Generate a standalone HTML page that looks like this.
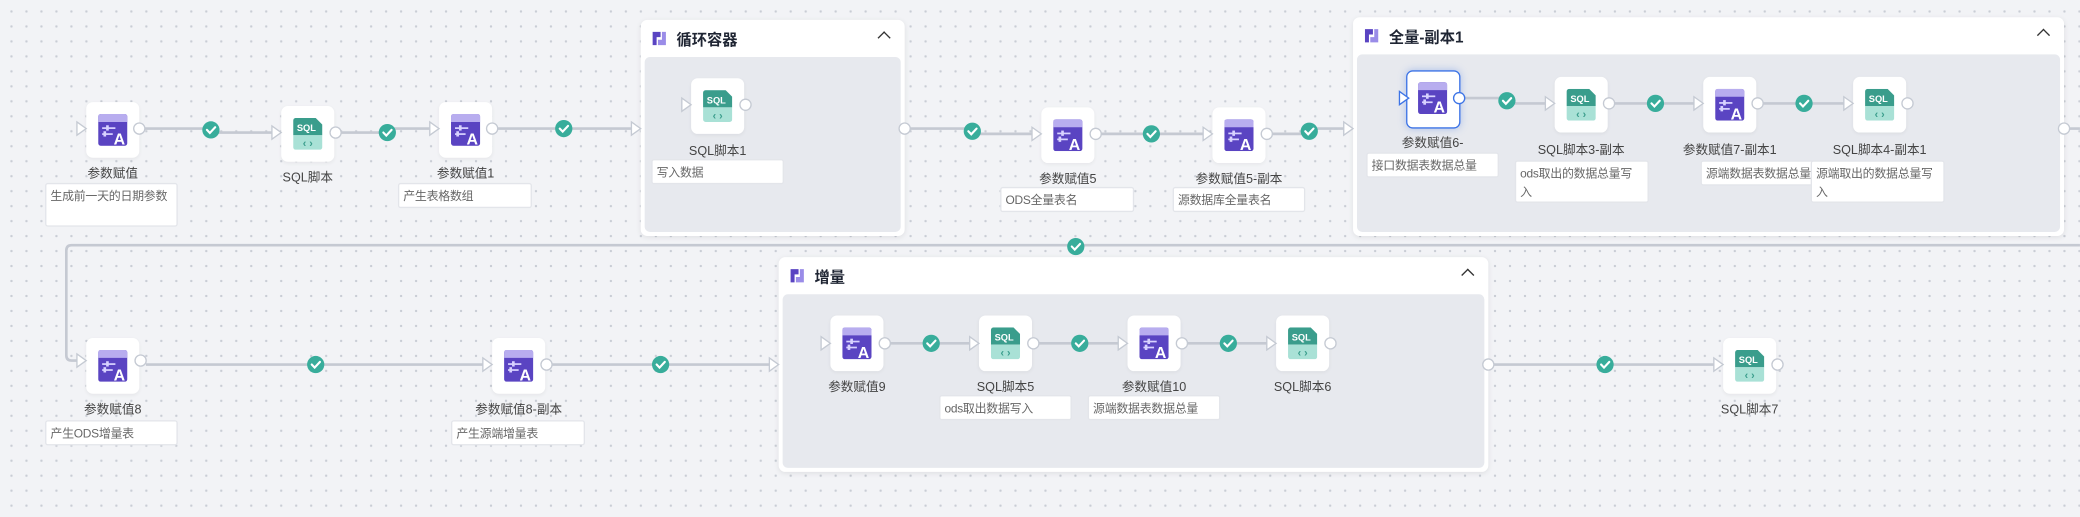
<!DOCTYPE html>
<html><head><meta charset="utf-8"><style>
html,body{margin:0;padding:0;width:2080px;height:517px;overflow:hidden;background:#f2f3f6;}
#w{position:absolute;left:0;top:0;width:1568px;height:390px;transform:scale(1.3265,1.3256);transform-origin:0 0;
background-color:#f2f3f6;background-image:radial-gradient(circle,#c9cdd5 0.8px,transparent 1px);background-size:11.3px 11.3px;background-position:3px 3px;
font-family:"Liberation Sans","Noto Sans CJK SC",sans-serif;}
.c{position:absolute;background:#fff;border-radius:5px;box-shadow:0 1px 4px rgba(0,0,0,.08);}
.c .b{position:absolute;left:3px;right:3px;top:28px;bottom:3px;background:#e7e9ee;border-radius:4px;}
.c .t{position:absolute;left:27px;top:7px;font-size:11.5px;font-weight:bold;color:#1f2533;}
.c .i{position:absolute;left:8px;top:8px;}
.c .ch{position:absolute;right:12px;top:10px;width:6px;height:6px;border-left:1.5px solid #333;border-top:1.5px solid #333;transform:rotate(45deg);}
.n{position:absolute;width:40px;height:42px;background:#fff;border-radius:5px;box-shadow:0 1px 3px rgba(0,0,0,.05);}
.n svg{position:absolute;left:9px;top:9px;}
.sel{border:1px solid #3d74e6;box-shadow:0 0 6px rgba(61,116,230,.35);width:39px;height:42px;}
.l{position:absolute;font-size:9.5px;color:#444;white-space:nowrap;transform:translateX(-50%);}
.d{position:absolute;background:#fff;border:1px solid #e3e5ea;font-size:9px;letter-spacing:-0.2px;color:#666;padding:2px 3px;line-height:14px;box-sizing:border-box;border-radius:2px;overflow:hidden;}
#ov{position:absolute;left:0;top:0;}
</style></head><body><div id="w">
<svg width="0" height="0" style="position:absolute"><defs>
<symbol id="pa" viewBox="0 0 22 24"><rect width="22" height="24" rx="2" fill="#5a44c2"/><path d="M0 2a2 2 0 0 1 2-2h18a2 2 0 0 1 2 2v4H0z" fill="#b8adef"/><rect x="3" y="10" width="10" height="1.3" fill="#d8d2ff"/><rect x="6" y="8.5" width="2" height="4" fill="#d8d2ff"/><rect x="3" y="14.5" width="8" height="1.3" fill="#d8d2ff"/><rect x="4" y="13" width="2" height="4" fill="#d8d2ff"/><text x="16" y="23" font-size="12" font-weight="bold" fill="#fff" text-anchor="middle" font-family="Liberation Sans,sans-serif">A</text></symbol>
<symbol id="sq" viewBox="0 0 22 24"><path d="M0 2a2 2 0 0 1 2-2h15l5 5v8H0z" fill="#3a9d8c"/><path d="M0 13h22v9a2 2 0 0 1-2 2H2a2 2 0 0 1-2-2z" fill="#a9e1d6"/><text x="10" y="10" font-size="7" font-weight="bold" fill="#fff" text-anchor="middle" font-family="Liberation Sans,sans-serif">SQL</text><text x="11" y="22" font-size="8" font-weight="bold" fill="#3a9d8c" text-anchor="middle" font-family="Liberation Sans,sans-serif">‹ ›</text></symbol>
<symbol id="lp" viewBox="0 0 12 12"><path d="M1 1h6v4H4v6H1z" fill="#5a44c2"/><path d="M11 11H5V7h3V1h3z" fill="#9a8ce8"/></symbol>
</defs></svg>

<div class="c" style="left:483px;top:15px;width:199px;height:163px"><svg class="i" width="12" height="12"><use href="#lp"/></svg><div class="t">循环容器</div><div class="ch"></div><div class="b"></div></div>
<div class="c" style="left:1020px;top:13px;width:536px;height:165px"><svg class="i" width="12" height="12"><use href="#lp"/></svg><div class="t">全量-副本1</div><div class="ch"></div><div class="b"></div></div>
<div class="c" style="left:587px;top:194px;width:535px;height:162px"><svg class="i" width="12" height="12"><use href="#lp"/></svg><div class="t">增量</div><div class="ch"></div><div class="b"></div></div>

<div class="n" style="left:65px;top:77px"><svg width="22" height="24"><use href="#pa"/></svg></div>
<div class="l" style="left:85px;top:123px">参数赋值</div>
<div class="d" style="left:34px;top:138px;width:100px;height:33px">生成前一天的日期参数</div>
<div class="n" style="left:212px;top:80px"><svg width="22" height="24"><use href="#sq"/></svg></div>
<div class="l" style="left:232px;top:126px">SQL脚本</div>
<div class="n" style="left:331px;top:77px"><svg width="22" height="24"><use href="#pa"/></svg></div>
<div class="l" style="left:351px;top:123px">参数赋值1</div>
<div class="d" style="left:300px;top:138px;width:101px;height:19px">产生表格数组</div>

<div class="n" style="left:521px;top:59px"><svg width="22" height="24"><use href="#sq"/></svg></div>
<div class="l" style="left:541px;top:106px">SQL脚本1</div>
<div class="d" style="left:491px;top:120px;width:100px;height:19px">写入数据</div>

<div class="n" style="left:785px;top:81px"><svg width="22" height="24"><use href="#pa"/></svg></div>
<div class="l" style="left:805px;top:127px">参数赋值5</div>
<div class="d" style="left:754px;top:141px;width:101px;height:19px">ODS全量表名</div>
<div class="n" style="left:914px;top:81px"><svg width="22" height="24"><use href="#pa"/></svg></div>
<div class="l" style="left:934px;top:127px">参数赋值5-副本</div>
<div class="d" style="left:884px;top:141px;width:100px;height:19px">源数据库全量表名</div>

<div class="n sel" style="left:1060px;top:53px"><svg width="22" height="24" style="left:8px;top:8px"><use href="#pa"/></svg></div>
<div class="l" style="left:1080px;top:100px">参数赋值6-</div>
<div class="d" style="left:1030px;top:115px;width:100px;height:19px">接口数据表数据总量</div>
<div class="n" style="left:1172px;top:58px"><svg width="22" height="24"><use href="#sq"/></svg></div>
<div class="l" style="left:1192px;top:105px">SQL脚本3-副本</div>
<div class="d" style="left:1142px;top:121px;width:101px;height:32px">ods取出的数据总量写入</div>
<div class="n" style="left:1284px;top:58px"><svg width="22" height="24"><use href="#pa"/></svg></div>
<div class="l" style="left:1304px;top:105px">参数赋值7-副本1</div>
<div class="d" style="left:1282px;top:121px;width:100px;height:19px">源端数据表数据总量</div>
<div class="n" style="left:1397px;top:58px"><svg width="22" height="24"><use href="#sq"/></svg></div>
<div class="l" style="left:1417px;top:105px">SQL脚本4-副本1</div>
<div class="d" style="left:1365px;top:121px;width:101px;height:32px">源端取出的数据总量写入</div>

<div class="n" style="left:65px;top:255px"><svg width="22" height="24"><use href="#pa"/></svg></div>
<div class="l" style="left:85px;top:301px">参数赋值8</div>
<div class="d" style="left:34px;top:317px;width:100px;height:19px">产生ODS增量表</div>
<div class="n" style="left:371px;top:255px"><svg width="22" height="24"><use href="#pa"/></svg></div>
<div class="l" style="left:391px;top:301px">参数赋值8-副本</div>
<div class="d" style="left:340px;top:317px;width:101px;height:19px">产生源端增量表</div>

<div class="n" style="left:626px;top:238px"><svg width="22" height="24"><use href="#pa"/></svg></div>
<div class="l" style="left:646px;top:284px">参数赋值9</div>
<div class="n" style="left:738px;top:238px"><svg width="22" height="24"><use href="#sq"/></svg></div>
<div class="l" style="left:758px;top:284px">SQL脚本5</div>
<div class="d" style="left:708px;top:298px;width:100px;height:19px">ods取出数据写入</div>
<div class="n" style="left:850px;top:238px"><svg width="22" height="24"><use href="#pa"/></svg></div>
<div class="l" style="left:870px;top:284px">参数赋值10</div>
<div class="d" style="left:820px;top:298px;width:100px;height:19px">源端数据表数据总量</div>
<div class="n" style="left:962px;top:238px"><svg width="22" height="24"><use href="#sq"/></svg></div>
<div class="l" style="left:982px;top:284px">SQL脚本6</div>
<div class="n" style="left:1299px;top:255px"><svg width="22" height="24"><use href="#sq"/></svg></div>
<div class="l" style="left:1319px;top:301px">SQL脚本7</div>

<svg id="ov" width="1568" height="390" viewBox="0 0 1568 390">
<defs>
<g id="ck"><circle r="6.5" fill="#38ad9b"/><path d="M-3 0l2.2 2.3L3.2-2" stroke="#fff" stroke-width="1.6" fill="none" stroke-linecap="round"/></g>
<path id="tri" d="M0-5L7 0L0 5z" fill="#fff" stroke="#c5cad3" stroke-width="1"/>
<circle id="oc" r="4.2" fill="#fff" stroke="#c5cad3" stroke-width="1"/>
</defs>
<g stroke="#c5c9d2" stroke-width="2" fill="none">
<path d="M109 97H159V100H205"/><path d="M257 100H292V97H324"/><path d="M375 97H476"/>
<path d="M686 97H733V101H778"/><path d="M830 101H907"/><path d="M959 101H987V97H1013"/>
<path d="M1104 74H1136V78H1165"/><path d="M1216 78H1277"/><path d="M1328 78H1390"/>
<path d="M1560 97H1568"/>
<path d="M1568 185H54Q50 185 50 189V268Q50 272 54 272H58"/>
<path d="M110 275H364"/><path d="M416 275H580"/>
<path d="M671 259H731"/><path d="M783 259H843"/><path d="M895 259H955"/>
<path d="M1126 275H1292"/>
</g>
<use href="#tri" x="58" y="97"/><use href="#tri" x="205" y="100"/><use href="#tri" x="324" y="97"/><use href="#tri" x="476" y="97"/>
<use href="#tri" x="514" y="79"/><use href="#tri" x="778" y="101"/><use href="#tri" x="907" y="101"/><use href="#tri" x="1013" y="97"/>
<path d="M1055 69L1062 74L1055 79z" fill="#fff" stroke="#3d74e6" stroke-width="1"/>
<use href="#tri" x="1165" y="78"/><use href="#tri" x="1277" y="78"/><use href="#tri" x="1390" y="78"/>
<use href="#tri" x="58" y="272"/><use href="#tri" x="364" y="275"/><use href="#tri" x="580" y="275"/>
<use href="#tri" x="619" y="259"/><use href="#tri" x="731" y="259"/><use href="#tri" x="843" y="259"/><use href="#tri" x="955" y="259"/><use href="#tri" x="1292" y="275"/>
<use href="#oc" x="105" y="97"/><use href="#oc" x="253" y="100"/><use href="#oc" x="371" y="97"/><use href="#oc" x="562" y="79"/><use href="#oc" x="682" y="97"/>
<use href="#oc" x="826" y="101"/><use href="#oc" x="955" y="101"/>
<circle cx="1100" cy="74" r="4.2" fill="#fff" stroke="#3d74e6"/>
<use href="#oc" x="1213" y="78"/><use href="#oc" x="1325" y="78"/><use href="#oc" x="1438" y="78"/><use href="#oc" x="1556" y="97"/>
<use href="#oc" x="106" y="272"/><use href="#oc" x="412" y="275"/><use href="#oc" x="667" y="259"/><use href="#oc" x="779" y="259"/><use href="#oc" x="891" y="259"/><use href="#oc" x="1003" y="259"/><use href="#oc" x="1122" y="275"/><use href="#oc" x="1340" y="275"/>
<use href="#ck" x="159" y="98"/><use href="#ck" x="292" y="100"/><use href="#ck" x="425" y="97"/>
<use href="#ck" x="733" y="99"/><use href="#ck" x="868" y="101"/><use href="#ck" x="987" y="99"/>
<use href="#ck" x="1136" y="76"/><use href="#ck" x="1248" y="78"/><use href="#ck" x="1360" y="78"/>
<use href="#ck" x="811" y="186"/>
<use href="#ck" x="238" y="275"/><use href="#ck" x="498" y="275"/>
<use href="#ck" x="702" y="259"/><use href="#ck" x="814" y="259"/><use href="#ck" x="926" y="259"/><use href="#ck" x="1210" y="275"/>
</svg>
</div></body></html>
